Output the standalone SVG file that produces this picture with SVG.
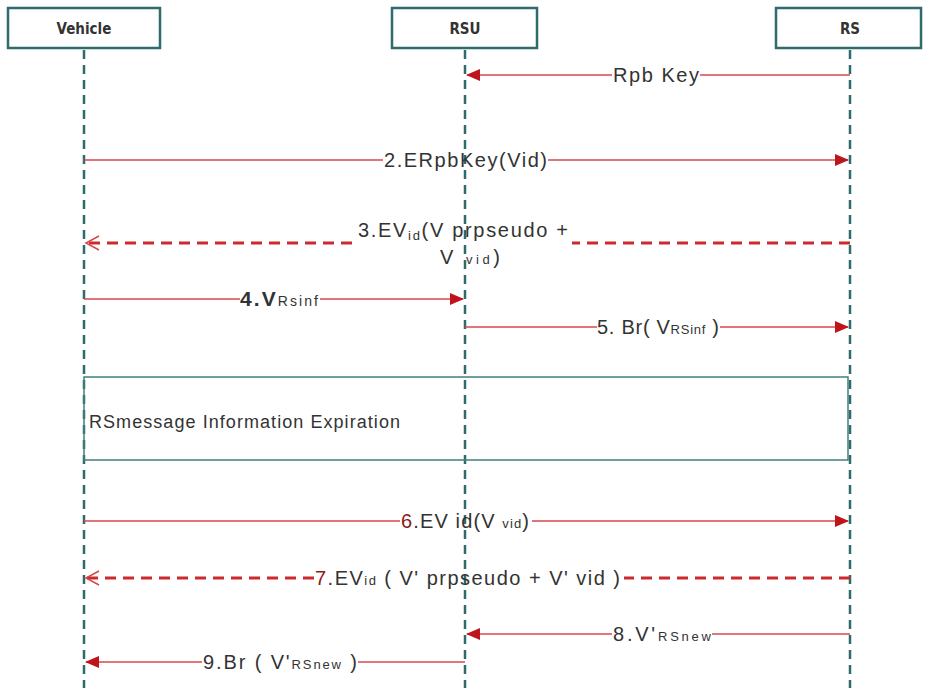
<svg xmlns="http://www.w3.org/2000/svg" width="929" height="688" viewBox="0 0 929 688">
<style>
.node rect{fill:#fff;stroke:#2e6b6b;stroke-width:2.5}
.node text{font-family:"DejaVu Sans Condensed","DejaVu Sans",sans-serif;font-weight:bold;font-size:15px;fill:#333;text-anchor:middle}
.life{stroke:#2e6b6b;stroke-width:2.5;stroke-dasharray:9,6}
.msg{stroke:#d9474b;stroke-width:1.6;fill:none}
.dmsg{stroke:#cc2a2e;stroke-width:3;stroke-dasharray:11,7;fill:none}
.lbl{font-family:"Liberation Sans",Arial,sans-serif;font-size:20px;fill:#333}
.sub{font-size:13px}
.red{fill:#8b1a1a}
</style>
<defs>
<marker id="fa" markerWidth="14" markerHeight="12" refX="13" refY="6" orient="auto" markerUnits="userSpaceOnUse">
<path d="M0,0 L14,6 L0,12 z" fill="#c0141c"/>
</marker>
<marker id="oa" markerWidth="16" markerHeight="16" refX="14" refY="8" orient="auto" markerUnits="userSpaceOnUse">
<path d="M1,1 L14,8 L1,15" fill="none" stroke="#d9474b" stroke-width="1.5"/>
</marker>
</defs>
<g id="lifelines">
<line class="life" x1="84" y1="50" x2="84" y2="688"/>
<line class="life" x1="465" y1="50" x2="465" y2="688"/>
<line class="life" x1="850" y1="50" x2="850" y2="688"/>
</g>
<g id="vehicle" class="node"><rect x="8" y="8" width="152" height="40"/><text x="84" y="34">Vehicle</text></g>
<g id="rsu" class="node"><rect x="392" y="8" width="145" height="40"/><text x="465" y="34">RSU</text></g>
<g id="rs" class="node"><rect x="776" y="8" width="145" height="40"/><text x="850" y="34">RS</text></g>
<g id="expiration">
<rect x="84" y="377" width="764" height="83" fill="none" stroke="#3f7f7f" stroke-width="1.5"/>
<text x="89" y="428" class="lbl" style="font-size:18px" textLength="311" lengthAdjust="spacing">RSmessage Information Expiration</text>
</g>
<g id="connectors">
<line class="msg" x1="612" y1="75" x2="467" y2="75" marker-end="url(#fa)"/>
<line class="msg" x1="850" y1="75" x2="700" y2="75"/>
<text class="lbl" x="613" y="82" textLength="86" lengthAdjust="spacing">Rpb Key</text>

<line class="msg" x1="84" y1="160" x2="383" y2="160"/>
<line class="msg" x1="548" y1="160" x2="848" y2="160" marker-end="url(#fa)"/>
<text class="lbl" x="384" y="167" textLength="163" lengthAdjust="spacing">2.ERpbKey(Vid)</text>

<line class="dmsg" x1="352" y1="243" x2="86" y2="243" marker-end="url(#oa)"/>
<line class="dmsg" x1="850" y1="243" x2="572" y2="243"/>
<text class="lbl" x="358" y="237" textLength="210" lengthAdjust="spacing">3.EV<tspan class="sub" dy="3">id</tspan><tspan dy="-3">(V prpseudo +</tspan></text>
<text class="lbl" x="440" y="264" textLength="60" lengthAdjust="spacing">V <tspan class="sub">vid</tspan>)</text>

<line class="msg" x1="84" y1="299" x2="240" y2="299"/>
<line class="msg" x1="320" y1="299" x2="463" y2="299" marker-end="url(#fa)"/>
<text class="lbl" x="240" y="306" textLength="78" lengthAdjust="spacing"><tspan style="font-weight:bold;font-size:21px">4.V</tspan><tspan class="sub" style="font-size:14px">Rsinf</tspan></text>

<line class="msg" x1="465" y1="327" x2="597" y2="327"/>
<line class="msg" x1="720" y1="327" x2="848" y2="327" marker-end="url(#fa)"/>
<text class="lbl" x="597" y="334" textLength="122" lengthAdjust="spacing">5. Br( V<tspan class="sub">RSinf</tspan> )</text>

<line class="msg" x1="84" y1="521" x2="400" y2="521"/>
<line class="msg" x1="532" y1="521" x2="848" y2="521" marker-end="url(#fa)"/>
<text class="lbl" x="401" y="528" textLength="128" lengthAdjust="spacing"><tspan class="red">6</tspan>.EV id(V <tspan class="sub">vid</tspan>)</text>

<line class="dmsg" x1="314" y1="578" x2="86" y2="578" marker-end="url(#oa)"/>
<line class="dmsg" x1="850" y1="578" x2="624" y2="578"/>
<text class="lbl" x="315" y="585" textLength="305" lengthAdjust="spacing"><tspan class="red">7</tspan>.EV<tspan class="sub">id</tspan> ( V' prpseudo + V' vid )</text>

<line class="msg" x1="612" y1="634" x2="467" y2="634" marker-end="url(#fa)"/>
<line class="msg" x1="850" y1="634" x2="712" y2="634"/>
<text class="lbl" x="613" y="641" textLength="98" lengthAdjust="spacing">8.V'<tspan class="sub">RSnew</tspan></text>

<line class="msg" x1="202" y1="662" x2="86" y2="662" marker-end="url(#fa)"/>
<line class="msg" x1="465" y1="662" x2="358" y2="662"/>
<text class="lbl" x="203" y="669" textLength="154" lengthAdjust="spacing">9.Br ( V'<tspan class="sub">RSnew</tspan> )</text>
</g>
</svg>
